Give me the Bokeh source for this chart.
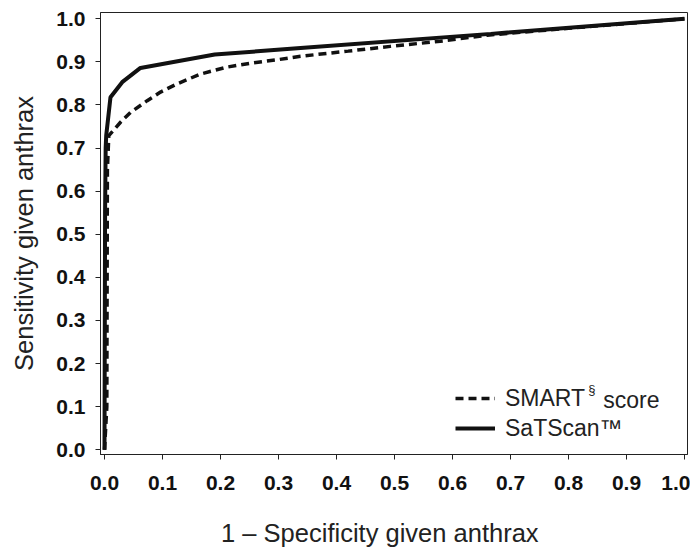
from bokeh.plotting import figure
from bokeh.models import Range1d, FixedTicker, PrintfTickFormatter, Legend, LegendItem, Label
from bokeh.embed import file_html
from bokeh.resources import INLINE

# Data
ticks = [0.0, 0.1, 0.2, 0.3, 0.4, 0.5, 0.6, 0.7, 0.8, 0.9, 1.0]

satscan_x = [0.0, 0.001, 0.002, 0.003, 0.0103, 0.0305, 0.062, 0.19, 0.338, 0.666, 1.0]
satscan_y = [0.0, 0.55, 0.70, 0.73, 0.818, 0.853, 0.886, 0.917, 0.932, 0.965, 1.0]

smart_x = [0.0, 0.004, 0.005, 0.0074, 0.0276, 0.045, 0.0736, 0.0966, 0.125, 0.166, 0.2115,
           0.252, 0.298, 0.338, 0.42, 0.493, 0.579, 0.66, 0.80, 1.0]
smart_y = [0.0, 0.10, 0.65, 0.729, 0.760, 0.783, 0.810, 0.830, 0.849, 0.872, 0.888,
           0.897, 0.905, 0.913, 0.925, 0.936, 0.948, 0.962, 0.978, 1.0]

p = figure(width=690, height=550,
           x_range=Range1d(-0.0069, 1.0052), y_range=Range1d(-0.0109, 1.0146),
           output_backend="svg", toolbar_location=None,
           min_border_left=100, min_border_right=3, min_border_top=12, min_border_bottom=96)

p.background_fill_color = "white"
p.border_fill_color = "white"
p.outline_line_color = "#222222"
p.outline_line_width = 1
p.xgrid.visible = False
p.ygrid.visible = False

for ax in (p.xaxis[0], p.yaxis[0]):
    ax.ticker = FixedTicker(ticks=ticks)
    ax.formatter = PrintfTickFormatter(format="%.1f")
    ax.major_tick_in = 0
    ax.major_tick_out = 5
    ax.minor_tick_line_color = None
    ax.axis_line_color = "#222222"
    ax.major_tick_line_color = "#222222"
    ax.major_label_text_font = "Liberation Sans"
    ax.major_label_text_font_style = "bold"
    ax.major_label_text_font_size = "21px"
    ax.major_label_text_color = "#111111"
    ax.axis_label_text_font = "Liberation Sans"
    ax.axis_label_text_font_style = "normal"
    ax.axis_label_text_font_size = "25.5px"
    ax.axis_label_text_color = "#222222"

# trailing no-break spaces nudge the centred title a little left, as in the reference
p.xaxis.axis_label = "1 – Specificity given anthrax" + "\u00a0" * 4
p.yaxis.axis_label = "Sensitivity given anthrax"
p.xaxis.major_label_standoff = 16
p.xaxis.axis_label_standoff = 26
p.yaxis.major_label_standoff = 10
p.yaxis.axis_label_standoff = 15

r_smart = p.line(smart_x, smart_y, line_width=3.5, line_dash="8 5", color="#111111")
r_sat = p.line(satscan_x, satscan_y, line_width=4, color="#111111")

legend = Legend(items=[LegendItem(label="SMART", renderers=[r_smart]),
                       LegendItem(label="SaTScan™", renderers=[r_sat])],
                location=(355, 11), padding=0, margin=0, spacing=0,
                glyph_width=40, glyph_height=30, label_height=30, label_standoff=10,
                label_text_font="Liberation Sans", label_text_font_size="23px",
                label_text_color="#222222",
                border_line_alpha=0, background_fill_alpha=0)
p.add_layout(legend)

# superscript mark and the rest of the first legend label
p.add_layout(Label(x=0.834, y=0.139, text="§",
                   text_font="Liberation Sans", text_font_size="13px",
                   text_color="#222222", text_baseline="alphabetic"))
p.add_layout(Label(x=0.860, y=0.115, text="score",
                   text_font="Liberation Sans", text_font_size="23px",
                   text_color="#222222", text_baseline="alphabetic"))

open("out.html", "w").write(file_html(p, INLINE))
